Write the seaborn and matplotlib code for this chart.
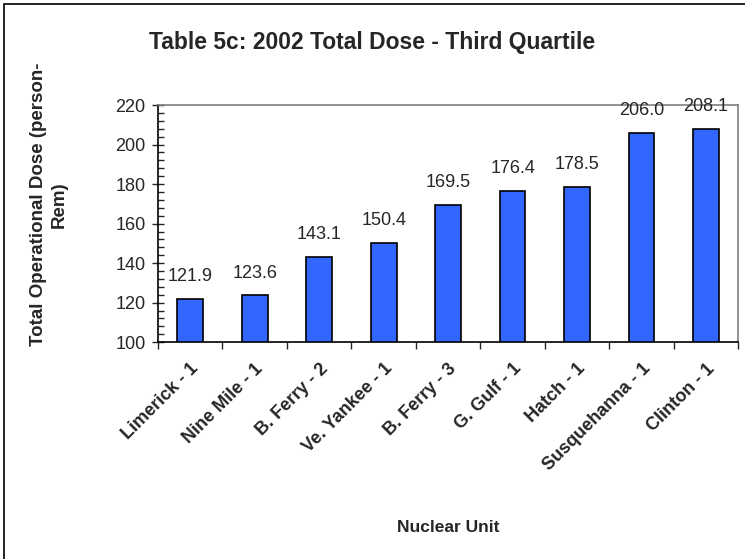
import numpy as np
import matplotlib
matplotlib.use("Agg")
import matplotlib.pyplot as plt
import seaborn as sns
from matplotlib.patches import Rectangle
from matplotlib.ticker import MultipleLocator, FixedLocator

# Data
units = ["Limerick - 1", "Nine Mile - 1", "B. Ferry - 2", "Ve. Yankee - 1",
         "B. Ferry - 3", "G. Gulf - 1", "Hatch - 1", "Susquehanna - 1", "Clinton - 1"]
doses = [121.9, 123.6, 143.1, 150.4, 169.5, 176.4, 178.5, 206.0, 208.1]

sns.set_style("white")
plt.rcParams['font.family'] = ['Liberation Sans', 'DejaVu Sans']

fig = plt.figure(figsize=(7.45, 5.59), dpi=100)
ax = fig.add_axes([0.212, 0.388, 0.779, 0.424])

sns.barplot(x=units, y=doses, color='#3366FF', edgecolor='black',
            linewidth=1.2, width=0.4, saturation=1, ax=ax)

ax.set_xlim(-0.5, len(units) - 0.5)
ax.set_ylim(100, 220)

# value labels
ax.bar_label(ax.containers[0], fmt='%.1f', padding=10, fontsize=13)

# y ticks
ax.yaxis.set_major_locator(MultipleLocator(20))
ax.yaxis.set_minor_locator(MultipleLocator(4))
ax.tick_params(axis='y', which='major', direction='inout', length=8, width=1,
               labelsize=13, pad=5, left=True)
ax.tick_params(axis='y', which='minor', direction='in', length=4, width=1, left=True)

# x ticks: marks between categories, labels centred
ax.xaxis.set_minor_locator(FixedLocator(np.arange(-0.5, len(units), 1.0)))
ax.tick_params(axis='x', which='major', length=0, pad=13)
ax.tick_params(axis='x', which='minor', direction='out', length=5, width=1, bottom=True)
for lab in ax.get_xticklabels():
    lab.set_rotation(45)
    lab.set_ha('right')
    lab.set_rotation_mode('anchor')
    lab.set_fontsize(13)
    lab.set_fontweight('bold')

for side in ['left', 'bottom']:
    ax.spines[side].set_color('black')
    ax.spines[side].set_linewidth(1.2)
for side in ['top', 'right']:
    ax.spines[side].set_color('#808080')
    ax.spines[side].set_linewidth(1.2)

ax.set_xlabel('Nuclear Unit', fontsize=12.5, fontweight='bold', labelpad=0)
ax.xaxis.set_label_coords(0.5, -0.75)
ax.set_ylabel('Total Operational Dose (person-\nRem)', fontsize=13.5,
              fontweight='bold', linespacing=1.25)
ax.yaxis.set_label_coords(-0.156, 0.58)

fig.text(0.5, 1 - 42 / 559, 'Table 5c: 2002 Total Dose - Third Quartile',
         ha='center', va='center', fontsize=16.5, fontweight='bold')

# outer chart frame
fig.patches.append(Rectangle((4 / 745, -0.02), 1.0, 1 - 4 / 559 + 0.02,
                             transform=fig.transFigure, fill=False,
                             edgecolor='black', linewidth=1.2))

fig.savefig('out.png', dpi=100)
